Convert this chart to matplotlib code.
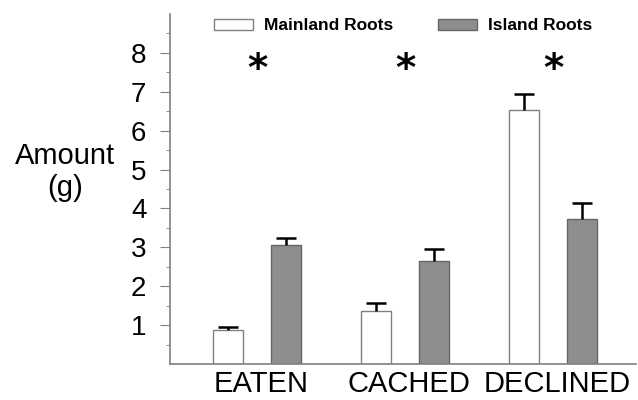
import matplotlib.pyplot as plt
import numpy as np

plt.rcParams['font.family'] = ['Liberation Sans', 'DejaVu Sans']

categories = ["EATEN", "CACHED", "DECLINED"]
mainland = [0.87, 1.36, 6.54]
mainland_err = [0.08, 0.20, 0.41]
island = [3.07, 2.64, 3.74]
island_err = [0.18, 0.31, 0.39]
signif = ["*", "*", "*"]

x = np.arange(len(categories))
w = 0.2
off = 0.196
cap = 0.068

fig = plt.figure(figsize=(6.38, 4.0), dpi=100)
ax = fig.add_axes([0.2665, 0.09, 0.73, 0.875])

ax.bar(x - off, mainland, w, color="white", edgecolor="#808080", linewidth=1.0,
       label="Mainland Roots", zorder=2)
ax.bar(x + off, island, w, color="#8e8e8e", edgecolor="#666666", linewidth=1.0,
       label="Island Roots", zorder=2)

# upper error bars only, with a single cap on top
for xs, vals, errs in [(x - off, mainland, mainland_err), (x + off, island, island_err)]:
    tops = np.array(vals) + np.array(errs)
    ax.vlines(xs, vals, tops, color="black", linewidth=1.8, zorder=3)
    ax.hlines(tops, xs - cap, xs + cap, color="black", linewidth=1.8, zorder=3)

for xi, s in zip(x, signif):
    ax.text(xi, 7.55, s, ha="center", va="center", fontsize=28, fontweight="bold",
            family="DejaVu Sans")

ax.set_xlim(-0.588, 2.56)
ax.set_ylim(0, 9)
ax.set_yticks(range(1, 9))
ax.set_yticks(np.arange(0.5, 9, 1), minor=True)
ax.tick_params(axis="y", which="major", labelsize=20, length=7, color="#808080", pad=10)
ax.tick_params(axis="y", which="minor", length=3, color="#808080")
ax.set_xticks(x + 0.03)
ax.set_xticklabels(categories, fontsize=21)
ax.tick_params(axis="x", length=0, pad=4)

for side in ["top", "right"]:
    ax.spines[side].set_visible(False)
for side in ["left", "bottom"]:
    ax.spines[side].set_color("#808080")
    ax.spines[side].set_linewidth(1.2)

fig.text(0.102, 0.57, "Amount\n(g)", ha="center", va="center", fontsize=21, linespacing=1.2)

ax.legend(loc="center left", bbox_to_anchor=(0.094, 0.966), ncol=2, frameon=False,
          prop=dict(weight="bold", size=12.5), handlelength=2.25, handleheight=0.6,
          columnspacing=2.6, handletextpad=0.63, borderpad=0, borderaxespad=0)

fig.savefig("out.png", dpi=100)
